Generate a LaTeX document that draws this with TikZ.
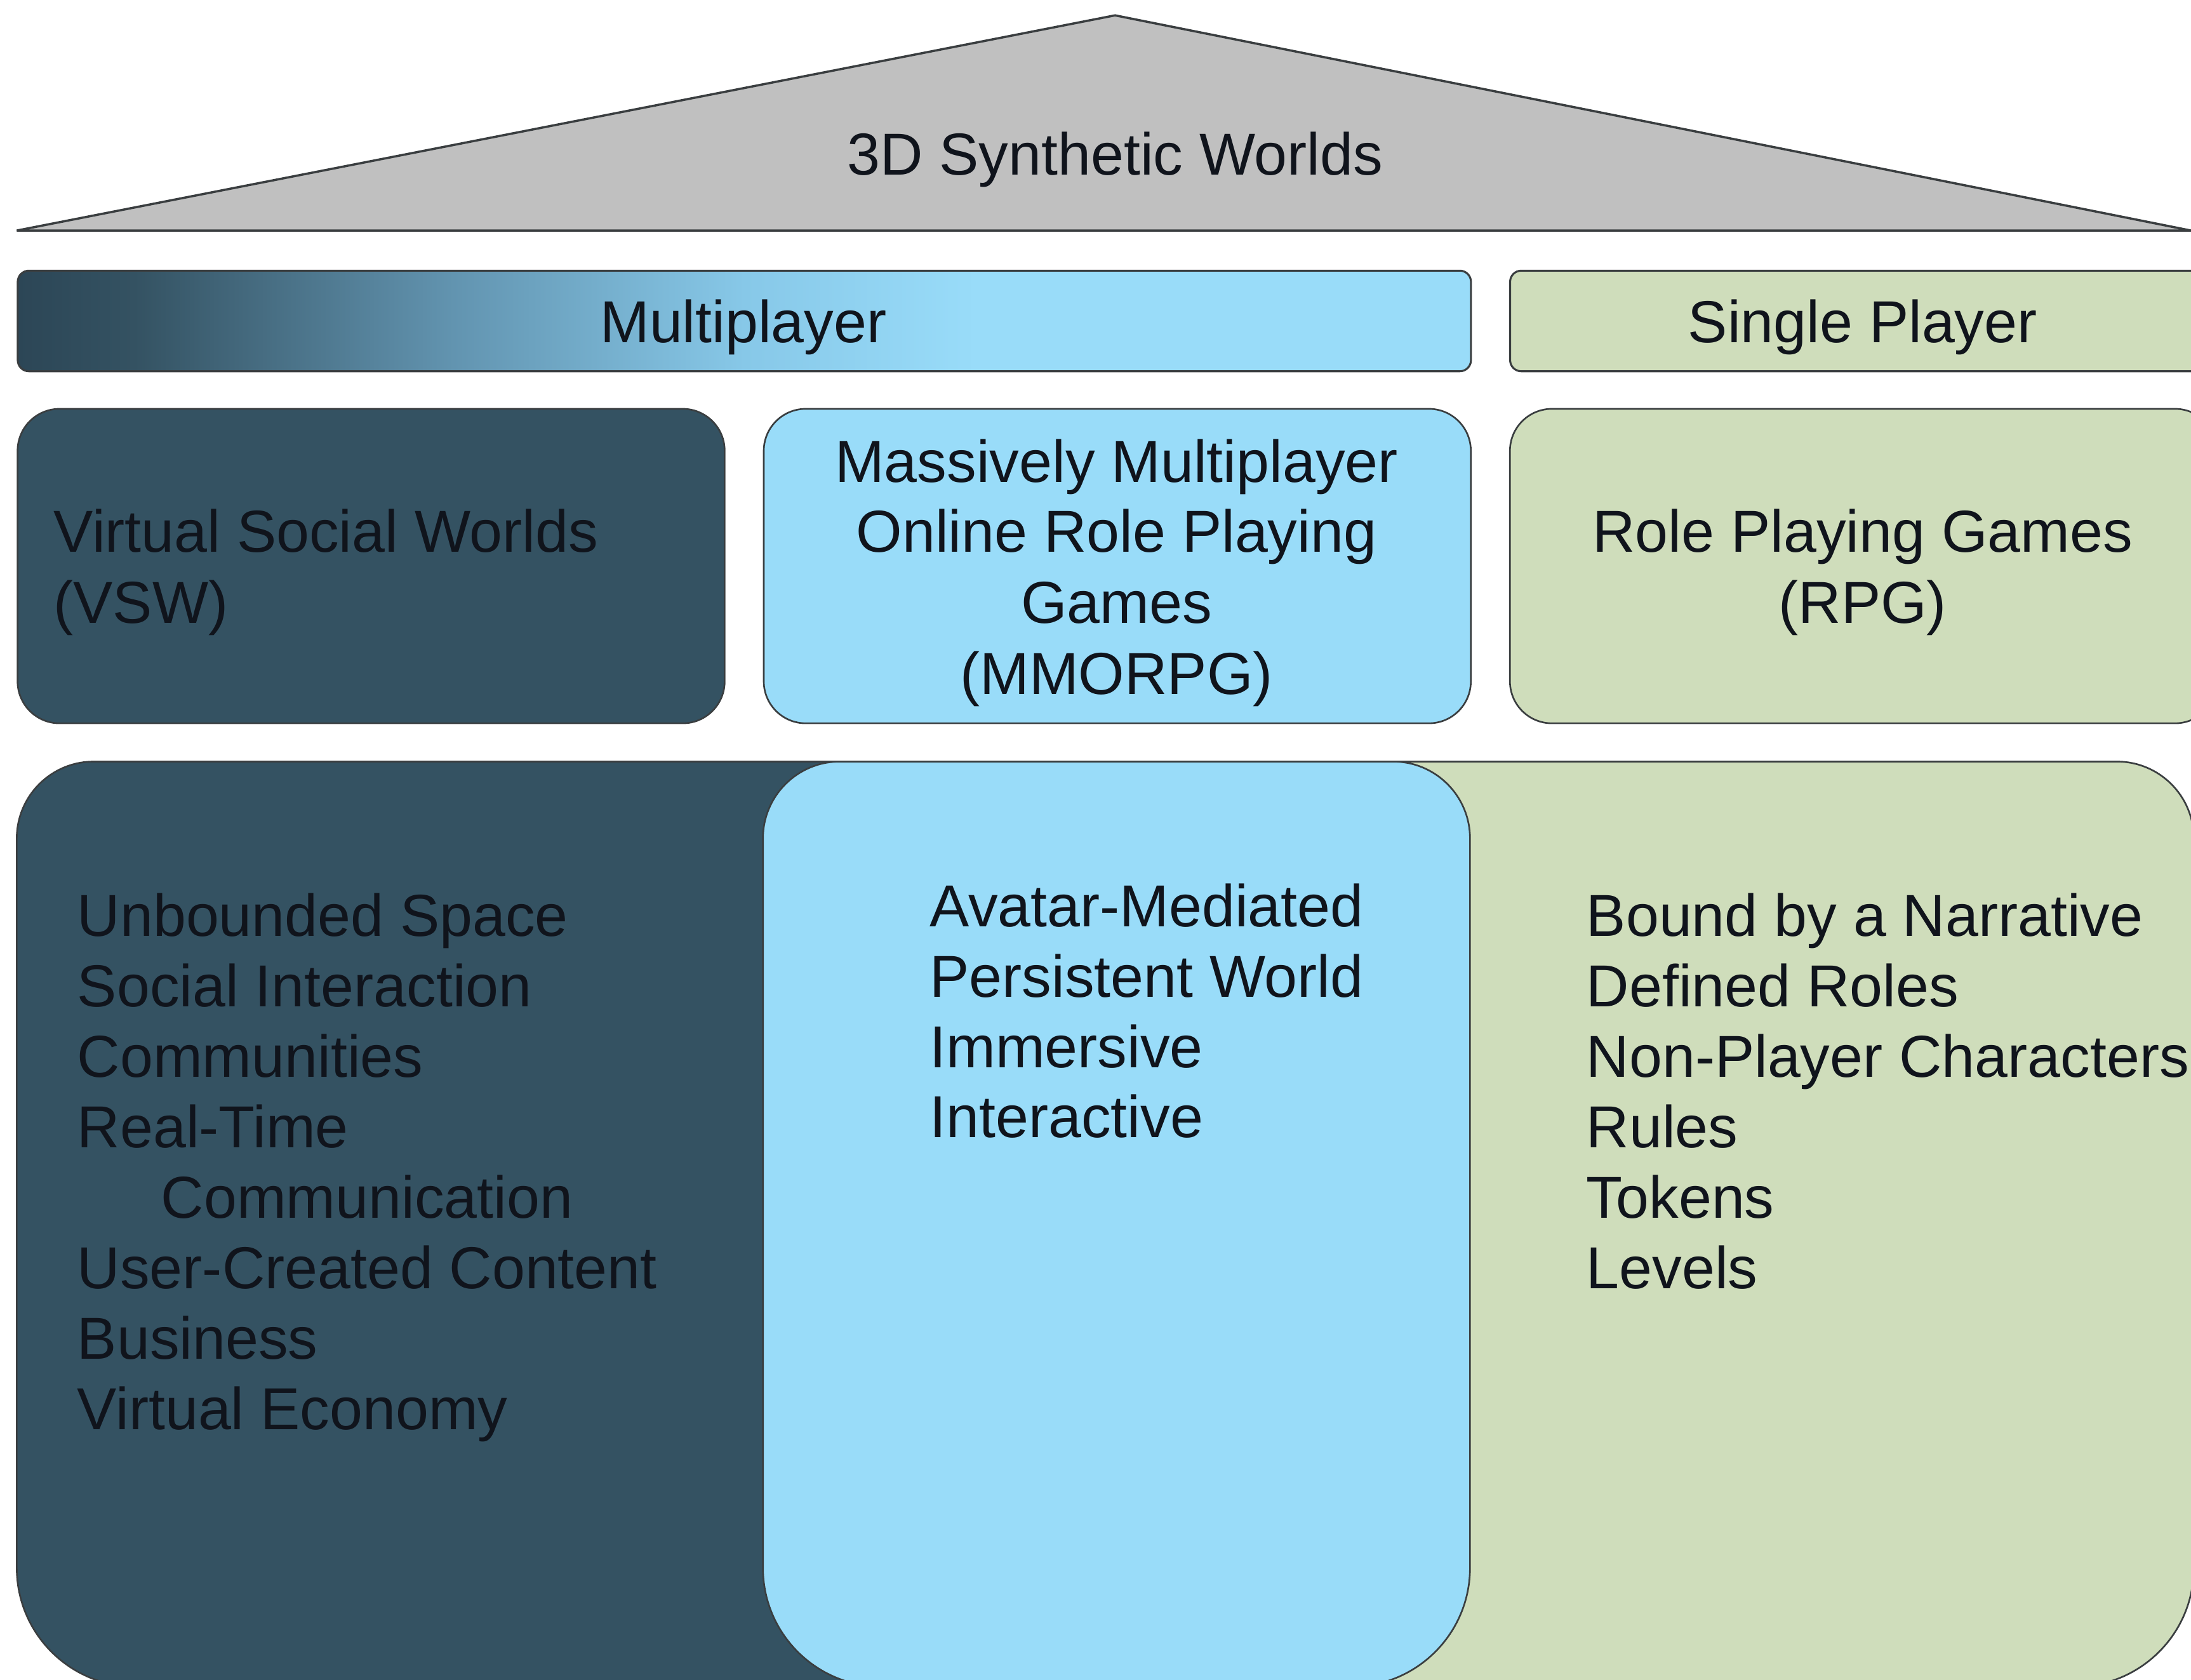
\documentclass[tikz,border=0pt]{standalone}
\usepackage{fontspec}
\setmainfont{Liberation Sans}
\definecolor{dkpanel}{RGB}{52,82,98}
\definecolor{dkedge}{RGB}{44,70,86}
\definecolor{mpmid}{RGB}{98,148,176}
\definecolor{mplight}{RGB}{135,200,232}
\definecolor{ltblue}{RGB}{153,220,249}
\definecolor{pgreen}{RGB}{207,221,187}
\definecolor{trigray}{RGB}{192,192,192}
\definecolor{edgecol}{RGB}{58,62,64}
\definecolor{txt}{RGB}{16,20,28}
\pgfdeclarehorizontalshading{mpshade}{100bp}{color(0bp)=(dkedge); color(25bp)=(dkedge); color(29bp)=(dkpanel); color(40bp)=(mpmid); color(50bp)=(mplight); color(58bp)=(ltblue); color(100bp)=(ltblue)}
\tikzset{
  lbl/.style={font=\fontsize{21.2pt}{25.2pt}\selectfont, text=txt, inner sep=0pt},
  bar/.style={draw=edgecol, line width=0.7pt, rounded corners=4pt, inner sep=0pt, anchor=north west, minimum width=253pt},
  cbox/.style={draw=edgecol, line width=0.6pt, rounded corners=15pt, inner sep=0pt, anchor=north west, minimum width=253pt, minimum height=112.5pt},
  panel/.style={draw=edgecol, line width=0.6pt},
  tri/.style={draw=edgecol, line width=0.8pt, fill=trigray}
}
\begin{document}
\begin{tikzpicture}[x=0.5pt, y=-0.5pt]
\path[use as bounding box] (0,0) rectangle (1568,1202);
\clip (0,0) rectangle (1568,1202);
\fill[white] (0,0) rectangle (1568,1202);

% roof
\draw[tri] (12,165) -- (798,11) -- (1568,165) -- cycle;
\node[lbl, anchor=base] (roof) at (798,125) {3D Synthetic Worlds};

% top bars
\node[bar, shading=mpshade, minimum width=520pt, minimum height=36pt] (mpbar) at (12,193) {};
\node[bar, fill=pgreen, minimum width=253pt, minimum height=36pt] (spbar) at (1080,193) {};
\node[lbl, anchor=base] (mptext) at (532,245) {Multiplayer};
\node[lbl, anchor=base] (sptext) at (1333,245) {Single Player};

% second row
\node[cbox, fill=dkpanel] (vswbox) at (12,292) {};
\node[cbox, fill=ltblue] (mmobox) at (546,292) {};
\node[cbox, fill=pgreen] (rpgbox) at (1080,292) {};
\node[lbl, anchor=base west] (vsw1) at (38,395) {Virtual Social Worlds};
\node[lbl, anchor=base west] (vsw2) at (38,446) {(VSW)};
\node[lbl, anchor=base] (mmo1) at (799,345) {Massively Multiplayer};
\node[lbl, anchor=base] (mmo2) at (799,395) {Online Role Playing};
\node[lbl, anchor=base] (mmo3) at (799,446) {Games};
\node[lbl, anchor=base] (mmo4) at (799,497) {(MMORPG)};
\node[lbl, anchor=base] (rpg1) at (1333,395) {Role Playing Games};
\node[lbl, anchor=base] (rpg2) at (1333,446) {(RPG)};

% bottom panels: dark (back), green (back), light blue (front)
\draw[panel, fill=dkpanel] (12,600) arc[start angle=180, end angle=90, radius=27.5pt]
  -- (695,545) arc[start angle=90, end angle=0, radius=27.5pt]
  -- (750,1122) arc[start angle=0, end angle=-90, radius=42.5pt]
  -- (97,1207) arc[start angle=270, end angle=180, radius=42.5pt] -- cycle;
\draw[panel, fill=pgreen] (900,600) arc[start angle=180, end angle=90, radius=27.5pt]
  -- (1515,545) arc[start angle=90, end angle=0, radius=27.5pt]
  -- (1570,1122) arc[start angle=0, end angle=-90, radius=42.5pt]
  -- (985,1207) arc[start angle=270, end angle=180, radius=42.5pt] -- cycle;
\draw[panel, fill=ltblue] (546,600) arc[start angle=180, end angle=90, radius=27.5pt]
  -- (997,545) arc[start angle=90, end angle=0, radius=27.5pt]
  -- (1052,1122) arc[start angle=0, end angle=-90, radius=42.5pt]
  -- (631,1207) arc[start angle=270, end angle=180, radius=42.5pt] -- cycle;

% lists
\foreach \t [count=\i] in {Unbounded Space, Social Interaction, Communities, Real-Time}
  \node[lbl, anchor=base west] (vswl\i) at (55,{670+(\i-1)*50.4}) {\t};
\node[lbl, anchor=base west] (vswl5) at (115,{670+4*50.4}) {Communication};
\foreach \t [count=\i from 6] in {User-Created Content, Business, Virtual Economy}
  \node[lbl, anchor=base west] (vswl\i) at (55,{670+(\i-1)*50.4}) {\t};
\foreach \t [count=\i] in {Avatar-Mediated, Persistent World, Immersive, Interactive}
  \node[lbl, anchor=base west] (mmol\i) at (665,{663+(\i-1)*50.4}) {\t};
\foreach \t [count=\i] in {Bound by a Narrative, Defined Roles, Non-Player Characters, Rules, Tokens, Levels}
  \node[lbl, anchor=base west] (rpgl\i) at (1135,{670+(\i-1)*50.4}) {\t};
\end{tikzpicture}
\end{document}
